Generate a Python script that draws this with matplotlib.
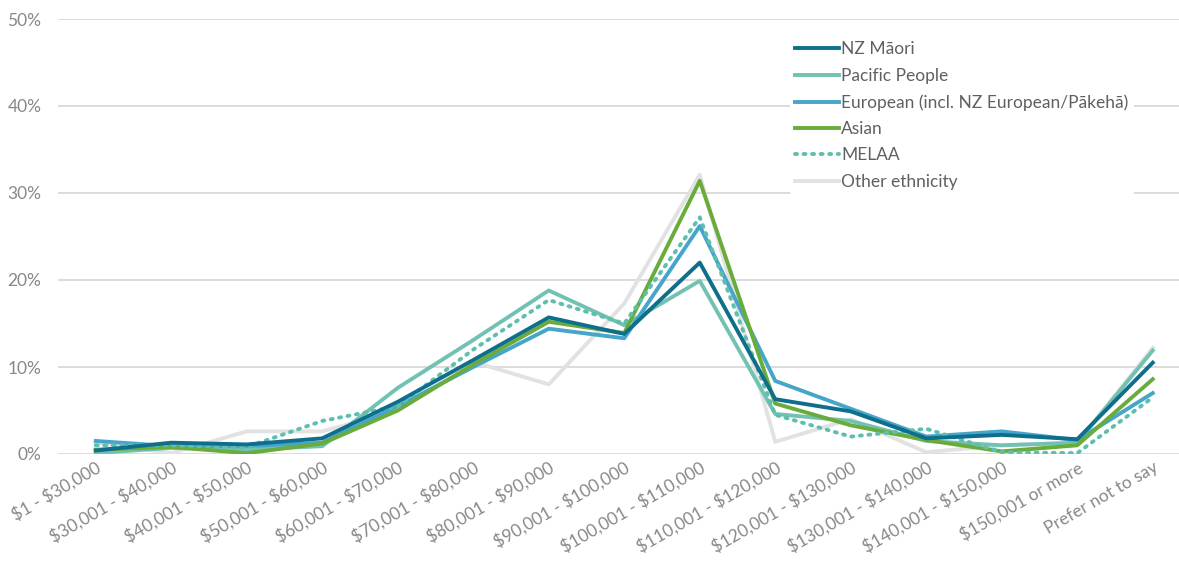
import matplotlib.pyplot as plt
from matplotlib.ticker import PercentFormatter

plt.rcParams['font.family'] = ['Lato', 'DejaVu Sans']
plt.rcParams['text.parse_math'] = False

categories = ["$1 - $30,000", "$30,001 - $40,000", "$40,001 - $50,000", "$50,001 - $60,000",
              "$60,001 - $70,000", "$70,001 - $80,000", "$80,001 - $90,000", "$90,001 - $100,000",
              "$100,001 - $110,000", "$110,001 - $120,000", "$120,001 - $130,000",
              "$130,001 - $140,000", "$140,001 - $150,000", "$150,001 or more", "Prefer not to say"]

# shares in percent
nz_maori = [0.4, 1.3, 1.1, 1.8, 6.0, 10.8, 15.7, 13.8, 22.0, 6.3, 4.9, 1.8, 2.2, 1.7, 10.5]
pacific = [0.1, 0.7, 0.5, 0.9, 7.6, 13.1, 18.8, 14.8, 19.9, 4.6, 3.8, 1.5, 1.0, 1.3, 11.9]
european = [1.5, 0.9, 0.9, 1.3, 5.5, 10.0, 14.4, 13.3, 26.2, 8.4, 5.2, 2.0, 2.6, 1.6, 7.0]
asian = [0.5, 0.8, 0.1, 1.2, 5.0, 10.3, 15.2, 13.9, 31.4, 5.8, 3.3, 1.6, 0.3, 1.0, 8.6]
melaa = [1.0, 1.0, 0.8, 3.8, 5.5, 12.0, 17.7, 15.0, 27.2, 4.5, 2.0, 2.9, 0.2, 0.1, 6.5]
other = [1.3, 0.1, 2.6, 2.6, 5.0, 10.6, 8.0, 17.3, 32.1, 1.4, 4.0, 0.2, 1.0, 1.3, 12.2]

fig = plt.figure(figsize=(11.79, 5.72), dpi=100)
ax = fig.add_axes([58 / 1179, 118 / 572, 1121 / 1179, 435 / 572])
x = range(len(categories))

lw = 2.8
ax.plot(x, nz_maori, color="#0f6e8c", lw=lw, label="NZ Māori", zorder=5)
ax.plot(x, pacific, color="#72c2b4", lw=lw, label="Pacific People", zorder=3)
ax.plot(x, european, color="#45a6c9", lw=lw, label="European (incl. NZ European/Pākehā)", zorder=4)
ax.plot(x, asian, color="#6aac3c", lw=lw, label="Asian", zorder=4)
ax.plot(x, melaa, color="#5fbfaf", lw=lw, ls=(0, (0.5, 1.7)), dash_capstyle="round",
        label="MELAA", zorder=4)
ax.plot(x, other, color="#e2e2e2", lw=lw, label="Other ethnicity", zorder=2)

ax.set_ylim(0, 50)
ax.set_xlim(-0.5, -0.5 + 1121 / 75.5)
ax.set_yticks(range(0, 51, 10))
ax.yaxis.set_major_formatter(PercentFormatter(decimals=0))
ax.grid(axis="y", color="#d9d9d9", lw=1.3)
ax.set_axisbelow(True)
for s in ax.spines.values():
    s.set_visible(False)
ax.tick_params(length=0, colors="#888888", labelsize=12.5)
ax.tick_params(axis="y", pad=12)
ax.set_xticks(list(x))
ax.set_xticklabels(categories, rotation=30, ha="right", rotation_mode="anchor")

leg = ax.legend(loc="upper left", bbox_to_anchor=(732 / 1121, 1 - 17 / 435), frameon=True,
                facecolor="white", edgecolor="none", framealpha=1, fontsize=12.5,
                handlelength=2.5, handletextpad=0.15, labelspacing=0.6, borderpad=0.3,
                borderaxespad=0)
for t in leg.get_texts():
    t.set_color("#606060")

plt.savefig("out.png", dpi=100)
